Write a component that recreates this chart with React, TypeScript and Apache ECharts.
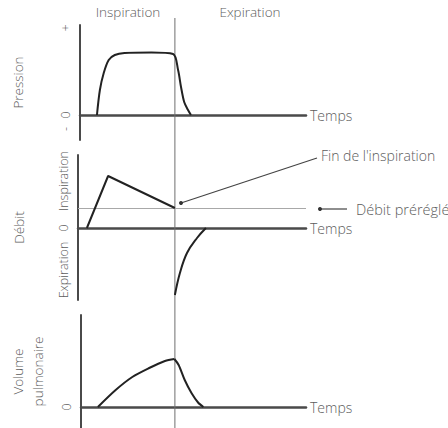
import React, { useEffect, useRef } from 'react';
import * as echarts from 'echarts';

const FONT = '"Open Sans", "Liberation Sans", sans-serif';
const TEXT = '#5c5c5c';
const AXIS = '#4a4a4a';
const CURVE = '#222222';

// ---- data (time in arbitrary units 0..100, values in arbitrary units) ----
const phaseLabels = ['Inspiration', 'Expiration'];
const timeRange = [0, 100];
const endOfInspiration = 42.5;

const pressureTime = [7.5, 8.8, 10.5, 12.7, 15.4, 19.7, 31.6, 41.2, 43.4, 44.7, 46.1, 47.8, 49.1];
const pressureValue = [0, 25, 42, 55, 60, 62, 62.5, 61, 45, 28, 13, 5, 0];
const pressureTicks = [-14, 0, 87];
const pressureTickLabels = ['-', '0', '+'];

const flowInTime = [3.9, 13.2, 42.5];
const flowInValue = [0, 52, 20];
const flowExTime = [42.5, 44.7, 47.8, 52.2, 56.1];
const flowExValue = [-67, -45, -25, -10, 0];
const presetFlow = 20;
const flowTicks = [-42, 0, 47];
const flowTickLabels = ['Expiration', '0', 'Inspiration'];

const volumeUpTime = [7.5, 15.4, 22.8, 30.3, 37.3, 41.5];
const volumeUpValue = [0, 17, 30, 39, 46, 48];
const volumeDownTime = [41.5, 43.4, 46.1, 49.1, 52.2, 54.4];
const volumeDownValue = [48, 42, 27, 14, 4, 0];
const volumeTicks = [0];
const volumeTickLabels = ['0'];

const panelNames = ['Pression', 'Débit', 'Volume\npulmonaire'];
const timeName = 'Temps';
const annotationEnd = "Fin de l'inspiration";
const annotationPreset = 'Débit préréglé';

const zip = (t: number[], v: number[]) => t.map((x, i) => [x, v[i]]);

export default function App() {
  const ref = useRef<HTMLDivElement>(null);
  useEffect(() => {
    if (!ref.current) return;
    const chart = echarts.init(ref.current, undefined, { renderer: 'svg' });

    const layout = [
      { top: 25, height: 115, min: -25, max: 90, gap: 52 },
      { top: 155, height: 145, min: -72, max: 73, gap: 49 },
      { top: 315, height: 113, min: -21, max: 92, gap: 33 },
    ];
    const ticks = [pressureTicks, flowTicks, volumeTicks];
    const tickLabels = [pressureTickLabels, flowTickLabels, volumeTickLabels];

    const grids: any[] = layout.map((l) => ({ left: 78, width: 228, top: l.top, height: l.height }));
    grids.push({ left: 78, width: 228, top: 18, bottom: 0 });

    const xAxes: any[] = layout.map((_, i) => ({
      type: 'value',
      gridIndex: i,
      min: timeRange[0],
      max: timeRange[1],
      axisLine: { show: true, onZero: true, lineStyle: { color: AXIS, width: 2.5 } },
      axisTick: { show: false },
      axisLabel: { show: false },
      splitLine: { show: false },
      name: timeName,
      nameLocation: 'end',
      nameGap: 4,
      nameTextStyle: { color: TEXT, fontSize: 14, fontFamily: FONT, fontWeight: 300 },
    }));
    xAxes.push({ type: 'value', gridIndex: 3, min: timeRange[0], max: timeRange[1], show: false });

    const yAxes: any[] = layout.map((l, i) => ({
      type: 'value',
      gridIndex: i,
      min: l.min,
      max: l.max,
      axisLine: { show: true, onZero: false, lineStyle: { color: AXIS, width: 2 } },
      axisTick: { show: false },
      splitLine: { show: false },
      axisLabel: {
        show: true,
        rotate: 90,
        margin: 8,
        customValues: ticks[i],
        formatter: (v: number) => {
          const k = ticks[i].indexOf(v);
          return k >= 0 ? tickLabels[i][k] : '';
        },
        color: TEXT,
        fontSize: 12.5,
        fontFamily: FONT,
        fontWeight: 300,
      },
      name: panelNames[i],
      nameLocation: 'middle',
      nameRotate: 90,
      nameGap: l.gap,
      nameTextStyle: { color: TEXT, fontSize: 13.5, fontFamily: FONT, fontWeight: 300, lineHeight: 20 },
    }));
    yAxes.push({ type: 'value', gridIndex: 3, min: 0, max: 1, show: false });

    const curve = (xi: number, data: number[][], smooth: number | boolean = 0.3) => ({
      type: 'line',
      xAxisIndex: xi,
      yAxisIndex: xi,
      data,
      smooth,
      symbol: 'none',
      lineStyle: { color: CURVE, width: 2 },
      z: 5,
    });

    const series: any[] = [
      {
        type: 'line',
        xAxisIndex: 3,
        yAxisIndex: 3,
        data: [[endOfInspiration, 0], [endOfInspiration, 1]],
        symbol: 'none',
        lineStyle: { color: '#6e6e6e', width: 1 },
        z: 1,
      },
      curve(0, zip(pressureTime, pressureValue), 0.3),
      {
        ...curve(1, zip(flowInTime, flowInValue), false),
        markLine: {
          silent: true,
          symbol: 'none',
          label: { show: false },
          lineStyle: { color: '#a8a8a8', width: 1, type: 'solid' },
          data: [{ yAxis: presetFlow }],
        },
      },
      curve(1, zip(flowExTime, flowExValue), 0.4),
      curve(2, zip(volumeUpTime, volumeUpValue), 0.3),
      curve(2, zip(volumeDownTime, volumeDownValue), 0.3),
    ];

    const txt = (text: string, x: number, y: number, align: string, size: number) => ({
      type: 'text',
      x,
      y,
      style: {
        text,
        fill: TEXT,
        fontSize: size,
        fontFamily: FONT,
        fontWeight: 300,
        textAlign: align,
        textVerticalAlign: 'middle',
      },
    });

    const graphic: any[] = [
      txt(phaseLabels[0], 128, 12, 'center', 13.5),
      txt(phaseLabels[1], 250, 12, 'center', 13.5),
      txt(annotationEnd, 321, 155, 'left', 14),
      {
        type: 'line',
        shape: { x1: 317, y1: 158, x2: 181, y2: 203 },
        style: { stroke: '#444', lineWidth: 1.2 },
      },
      { type: 'circle', shape: { cx: 181, cy: 203, r: 2 }, style: { fill: '#333' } },
      txt(annotationPreset, 356, 209, 'left', 14.5),
      {
        type: 'line',
        shape: { x1: 320, y1: 209, x2: 347, y2: 209 },
        style: { stroke: '#444', lineWidth: 1.2 },
      },
      { type: 'circle', shape: { cx: 320, cy: 209, r: 2 }, style: { fill: '#333' } },
    ];

    chart.setOption({
      animation: false,
      backgroundColor: '#ffffff',
      grid: grids,
      xAxis: xAxes,
      yAxis: yAxes,
      series,
      graphic,
    });
    return () => chart.dispose();
  }, []);
  return (
    <div
      ref={ref}
      style={{ position: 'absolute', left: 0, top: 0, width: 448, height: 428 }}
    />
  );
}
